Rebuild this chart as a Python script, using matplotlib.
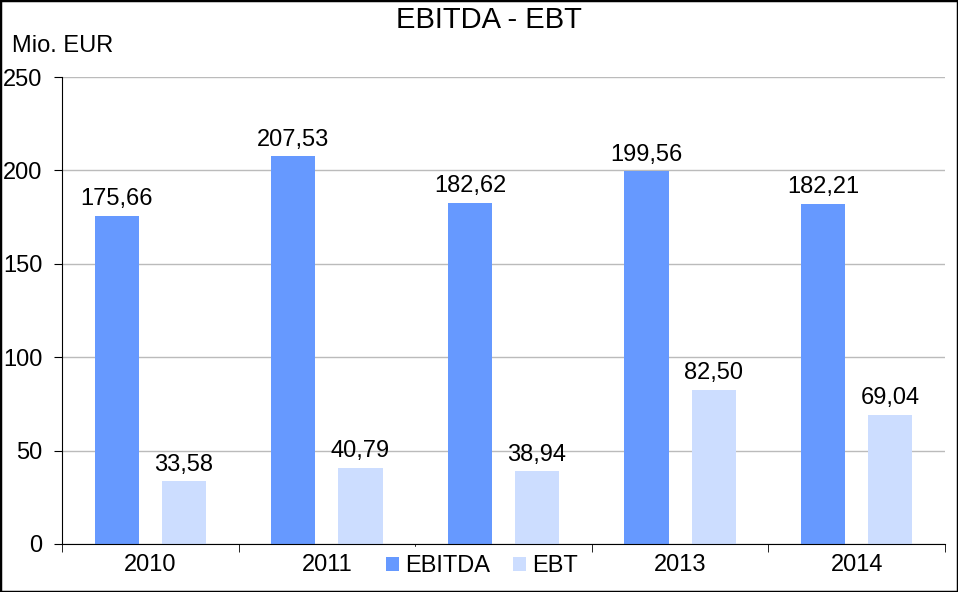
import matplotlib
matplotlib.use("Agg")
import matplotlib.pyplot as plt
from matplotlib.patches import Rectangle
import numpy as np

plt.rcParams['font.family'] = ['Liberation Sans', 'DejaVu Sans']

years = ["2010", "2011", "2012", "2013", "2014"]
ebitda = [175.66, 207.53, 182.62, 199.56, 182.21]
ebt = [33.58, 40.79, 38.94, 82.50, 69.04]

c_ebitda = "#6699FF"
c_ebt = "#CCDDFF"
fs = 17

fig = plt.figure(figsize=(9.58, 5.92), dpi=100)
ax = fig.add_axes([62/958, 48/592, (945-62)/958, (544-77)/592])

x = np.arange(len(years))
w = 0.25
b1 = ax.bar(x - 0.19, ebitda, w, color=c_ebitda, label="EBITDA", zorder=3)
b2 = ax.bar(x + 0.19, ebt, w, color=c_ebt, label="EBT", zorder=3)

def fmt(v):
    return f"{v:.2f}".replace(".", ",")

for rects, vals in ((b1, ebitda), (b2, ebt)):
    for r, v in zip(rects, vals):
        ax.annotate(fmt(v), (r.get_x() + r.get_width()/2, v), xytext=(0, 4),
                    textcoords="offset points", ha="center", va="bottom", fontsize=fs)

ax.set_xlim(-0.5, len(years) - 0.5)
ax.set_ylim(0, 250)
ax.set_yticks(range(0, 251, 50))
ax.set_xticks(x)
ax.set_xticklabels(years, fontsize=fs)
ax.set_xticks(np.arange(-0.5, len(years), 1), minor=True)
ax.tick_params(axis="x", which="major", length=0, pad=7)
ax.tick_params(axis="x", which="minor", length=6, direction="out", color="black")
ax.tick_params(axis="y", length=6, direction="out", labelsize=fs, pad=8)
ax.grid(axis="y", color="#BBBBBB", linewidth=1, zorder=0)
ax.spines["top"].set_visible(False)
ax.spines["right"].set_visible(False)
ax.spines["bottom"].set_zorder(4)

# the legend sits over the 2012 label in the original, so that label is not seen
ax.get_xticklabels()[2].set_visible(False)

fig.text(489/958, 1 - 20/592, "EBITDA - EBT", ha="center", va="center", fontsize=21)
fig.text(12/958, 1 - 46/592, "Mio. EUR", ha="left", va="center", fontsize=fs)

leg = fig.legend(handles=[b1, b2], loc="center", bbox_to_anchor=(482/958, 1 - 566/592),
                 ncol=2, frameon=True, fontsize=fs, handlelength=0.55, handleheight=0.55,
                 handletextpad=0.25, columnspacing=1.0, borderpad=0.35, fancybox=False)
leg.get_frame().set_edgecolor("white")
leg.get_frame().set_facecolor("white")
leg.get_frame().set_alpha(1)
leg.set_zorder(10)

fig.patches.append(Rectangle((0, 0), 1, 1, transform=fig.transFigure, fill=False,
                             edgecolor="black", linewidth=2.5))

fig.savefig("out.png", dpi=100)
